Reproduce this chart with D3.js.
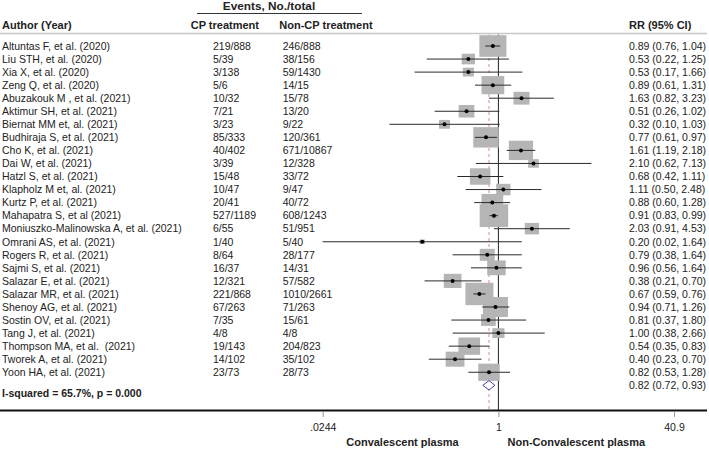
<!DOCTYPE html>
<html>
<head>
<meta charset="utf-8">
<script src="https://cdn.jsdelivr.net/npm/d3@7"></script>
<style>
  html, body { margin: 0; padding: 0; background: #fff; }
  svg { display: block; font-family: "Liberation Sans", Arial, sans-serif; }
  text { white-space: pre; fill: #222; }
  .b { font-weight: bold; }
</style>
</head>
<body>
<svg id="chart" width="709" height="450"></svg>
<script>
const authors = [
  "Altuntas F, et al. (2020)", "Liu STH, et al. (2020)", "Xia X, et al. (2020)",
  "Zeng Q, et al. (2020)", "Abuzakouk M , et al. (2021)", "Aktimur SH, et al. (2021)",
  "Biernat MM et, al. (2021)", "Budhiraja S, et al. (2021)", "Cho K, et al. (2021)",
  "Dai W, et al. (2021)", "Hatzl S, et al. (2021)", "Klapholz M et, al. (2021)",
  "Kurtz P, et al. (2021)", "Mahapatra S, et al (2021)", "Moniuszko-Malinowska A, et al. (2021)",
  "Omrani AS, et al. (2021)", "Rogers R, et al. (2021)", "Sajmi S, et al. (2021)",
  "Salazar E, et al. (2021)", "Salazar MR, et al. (2021)", "Shenoy AG, et al. (2021)",
  "Sostin OV, et al. (2021)", "Tang J, et al. (2021)", "Thompson MA, et al.  (2021)",
  "Tworek A, et al. (2021)", "Yoon HA, et al. (2021)"
];
const cpEvents  = [219, 5, 3, 5, 10, 7, 3, 85, 40, 3, 15, 10, 20, 527, 6, 1, 8, 16, 12, 221, 67, 7, 4, 19, 14, 23];
const cpTotal   = [888, 39, 138, 6, 32, 21, 23, 333, 402, 39, 48, 47, 41, 1189, 55, 40, 64, 37, 321, 868, 263, 35, 8, 143, 102, 73];
const ncpEvents = [246, 38, 59, 14, 15, 13, 9, 120, 671, 12, 33, 9, 40, 608, 51, 5, 28, 14, 57, 1010, 71, 15, 4, 204, 35, 28];
const ncpTotal  = [888, 156, 1430, 15, 78, 20, 22, 361, 10867, 328, 72, 47, 72, 1243, 951, 40, 177, 31, 582, 2661, 263, 61, 8, 823, 102, 73];
const rr   = [0.89, 0.53, 0.53, 0.89, 1.63, 0.51, 0.32, 0.77, 1.61, 2.10, 0.68, 1.11, 0.88, 0.91, 2.03, 0.20, 0.79, 0.96, 0.38, 0.67, 0.94, 0.81, 1.00, 0.54, 0.40, 0.82];
const ciLo = [0.76, 0.22, 0.17, 0.61, 0.82, 0.26, 0.10, 0.61, 1.19, 0.62, 0.42, 0.50, 0.60, 0.83, 0.91, 0.0244, 0.38, 0.56, 0.21, 0.59, 0.71, 0.37, 0.38, 0.35, 0.23, 0.53];
const ciHi = [1.04, 1.25, 1.66, 1.31, 3.23, 1.02, 1.03, 0.97, 2.18, 7.13, 1.11, 2.48, 1.28, 0.99, 4.53, 1.64, 1.64, 1.64, 0.70, 0.76, 1.26, 1.80, 2.66, 0.83, 0.70, 1.28];
const weights = [7.6, 1.84, 1.26, 5.37, 2.67, 2.57, 1.26, 6.77, 6.1, 1.19, 4.38, 2.13, 4.91, 8.46, 2.13, 0.32, 2.34, 3.57, 3.26, 8.17, 6.51, 2.25, 1.55, 4.91, 3.68, 4.82];
const pooled = { rr: 0.82, lo: 0.72, hi: 0.93 };
const heterogeneity = "I-squared = 65.7%, p = 0.000";
const tickValues = [0.0244, 1, 40.9];
const tickLabels = [".0244", "1", "40.9"];
const headers = { author: "Author (Year)", events: "Events, No./total", cp: "CP treatment", ncp: "Non-CP treatment", rr: "RR (95% CI)" };
const axisTitles = ["Convalescent plasma", "Non-Convalescent plasma"];

const svg = d3.select("#chart");
const fmt = d3.format(".2f");

const x = d3.scaleLog().domain([0.0244, 40.9]).range([322.7, 674]);
const y = d3.scaleLinear().domain([0, 26]).range([46, 385.3]);
const size = d3.scaleSqrt().domain([0, 10]).range([0, 31]);
const aspect = 0.8;

// headers
svg.append("text").attr("class", "b").attr("x", 269).attr("y", 10).attr("text-anchor", "middle")
  .style("font-size", "11.8px").text(headers.events);
svg.append("line").attr("x1", 197).attr("x2", 362).attr("y1", 13.5).attr("y2", 13.5)
  .attr("stroke", "#333").attr("stroke-width", 1);
svg.append("text").attr("class", "b").attr("x", 2).attr("y", 29).style("font-size", "11px").text(headers.author);
svg.append("text").attr("class", "b").attr("x", 190.7).attr("y", 29).style("font-size", "11px").text(headers.cp);
svg.append("text").attr("class", "b").attr("x", 279.3).attr("y", 29).style("font-size", "11px").text(headers.ncp);
svg.append("text").attr("class", "b").attr("x", 629).attr("y", 29).style("font-size", "11px").text(headers.rr);

// text rows
const rows = svg.append("g").style("font-size", "10.5px");
authors.forEach((a, i) => {
  rows.append("text").attr("x", 2).attr("y", y(i)).attr("dy", "0.36em").text(a);
  rows.append("text").attr("x", 213).attr("y", y(i)).attr("dy", "0.36em").text(cpEvents[i] + "/" + cpTotal[i]);
  rows.append("text").attr("x", 282.7).attr("y", y(i)).attr("dy", "0.36em").text(ncpEvents[i] + "/" + ncpTotal[i]);
  rows.append("text").attr("x", 629).attr("y", y(i)).attr("dy", "0.36em")
    .text(fmt(rr[i]) + " (" + fmt(ciLo[i]) + ", " + fmt(ciHi[i]) + ")");
});
rows.append("text").attr("x", 629).attr("y", y(26)).attr("dy", "0.36em")
  .text(fmt(pooled.rr) + " (" + fmt(pooled.lo) + ", " + fmt(pooled.hi) + ")");
svg.append("text").attr("class", "b").attr("x", 2).attr("y", 393).attr("dy", "0.36em")
  .style("font-size", "10.5px").text(heterogeneity);

// plot
const defs = svg.append("defs");
defs.append("clipPath").attr("id", "plotclip").append("rect")
  .attr("x", 0).attr("y", 34.5).attr("width", 709).attr("height", 376);
const plot = svg.append("g").attr("clip-path", "url(#plotclip)");

// null line
plot.append("line").attr("x1", x(1)).attr("x2", x(1)).attr("y1", 34).attr("y2", 410)
  .attr("stroke", "#222").attr("stroke-width", 1);
// pooled dashed line
plot.append("line").attr("x1", x(pooled.rr)).attr("x2", x(pooled.rr)).attr("y1", 34).attr("y2", 410)
  .attr("stroke", "#d98a8a").attr("stroke-width", 1).attr("stroke-dasharray", "3,3");

// boxes
plot.selectAll("rect.box").data(rr).join("rect").attr("class", "box")
  .attr("x", (d, i) => x(d) - size(weights[i]) / 2)
  .attr("y", (d, i) => y(i) - size(weights[i]) * aspect / 2)
  .attr("width", (d, i) => size(weights[i]))
  .attr("height", (d, i) => size(weights[i]) * aspect)
  .attr("fill", "#b5b5b5");

// CI lines
plot.selectAll("line.ci").data(rr).join("line").attr("class", "ci")
  .attr("x1", (d, i) => x(ciLo[i])).attr("x2", (d, i) => x(ciHi[i]))
  .attr("y1", (d, i) => y(i)).attr("y2", (d, i) => y(i))
  .attr("stroke", "#2a2a2a").attr("stroke-width", 1);

// points
plot.selectAll("circle.pt").data(rr).join("circle").attr("class", "pt")
  .attr("cx", d => x(d)).attr("cy", (d, i) => y(i)).attr("r", 2).attr("fill", "#000");

// diamond
const dy = 4.7, yc = y(26);
plot.append("path")
  .attr("d", `M${x(pooled.lo)},${yc} L${x(pooled.rr)},${yc - dy} L${x(pooled.hi)},${yc} L${x(pooled.rr)},${yc + dy} Z`)
  .attr("fill", "#fff").attr("stroke", "#4444aa").attr("stroke-width", 1);

// axis
svg.append("line").attr("x1", 0).attr("x2", 707).attr("y1", 410.5).attr("y2", 410.5)
  .attr("stroke", "#111").attr("stroke-width", 2.2);
const axis = d3.axisBottom(x).tickValues(tickValues).tickSize(5).tickFormat((d, i) => tickLabels[i]);
const ax = svg.append("g").attr("transform", "translate(0,412)").call(axis);
ax.select(".domain").remove();
ax.selectAll(".tick line").attr("stroke", "#999");
ax.selectAll(".tick text").attr("dy", 0).attr("y", 19).style("font-size", "10.5px")
  .style("font-family", "'Liberation Sans', Arial, sans-serif").attr("fill", "#222");

svg.append("text").attr("class", "b").attr("x", 402.5).attr("y", 446).attr("text-anchor", "middle")
  .style("font-size", "11px").text(axisTitles[0]);
svg.append("text").attr("class", "b").attr("x", 576.3).attr("y", 446).attr("text-anchor", "middle")
  .style("font-size", "11px").text(axisTitles[1]);

// header rule
svg.append("line").attr("x1", 0).attr("x2", 707).attr("y1", 33.5).attr("y2", 33.5)
  .attr("stroke", "#c8c8c8").attr("stroke-width", 1.6);
</script>
</body>
</html>
